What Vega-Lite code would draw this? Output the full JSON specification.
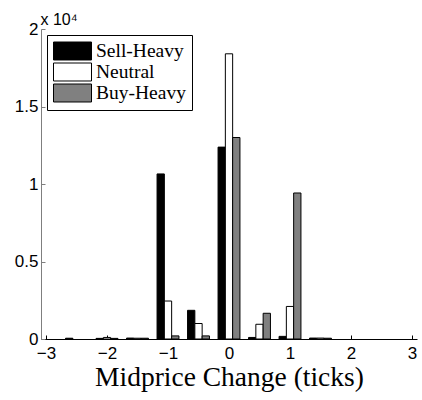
{
  "$schema": "https://vega.github.io/schema/vega-lite/v6.json",
  "width": 376,
  "height": 310,
  "autosize": "none",
  "padding": {"left": 41, "top": 29, "right": 5, "bottom": 61},
  "background": "white",
  "config": {
    "view": {"stroke": null},
    "axis": {
      "grid": false,
      "domainColor": "black",
      "tickColor": "black",
      "labelColor": "black",
      "labelFont": "Liberation Sans",
      "labelFontSize": 17,
      "tickSize": -4,
      "titleColor": "black"
    },
    "legend": {
      "orient": "top-left",
      "offset": 6,
      "padding": 6,
      "strokeColor": "black",
      "strokeWidth": 1,
      "fillColor": "white",
      "labelFont": "Liberation Serif",
      "labelFontSize": 19.5,
      "labelColor": "black",
      "rowPadding": -2,
      "symbolType": "M-1,-0.947H3V0.947H-1Z",
      "symbolSize": 361,
      "symbolStrokeColor": "black",
      "symbolStrokeWidth": 1,
      "labelOffset": 23,
      "title": null
    }
  },
  "data": {
    "values": [
      {"change": -2.5, "series": "Sell-Heavy", "count": 50},
      {"change": -2.5, "series": "Neutral", "count": 0},
      {"change": -2.5, "series": "Buy-Heavy", "count": 0},
      {"change": -2, "series": "Sell-Heavy", "count": 40},
      {"change": -2, "series": "Neutral", "count": 100},
      {"change": -2, "series": "Buy-Heavy", "count": 40},
      {"change": -1.5, "series": "Sell-Heavy", "count": 60},
      {"change": -1.5, "series": "Neutral", "count": 50},
      {"change": -1.5, "series": "Buy-Heavy", "count": 50},
      {"change": -1, "series": "Sell-Heavy", "count": 10650},
      {"change": -1, "series": "Neutral", "count": 2450},
      {"change": -1, "series": "Buy-Heavy", "count": 200},
      {"change": -0.5, "series": "Sell-Heavy", "count": 1850},
      {"change": -0.5, "series": "Neutral", "count": 1000},
      {"change": -0.5, "series": "Buy-Heavy", "count": 200},
      {"change": 0, "series": "Sell-Heavy", "count": 12380},
      {"change": 0, "series": "Neutral", "count": 18400},
      {"change": 0, "series": "Buy-Heavy", "count": 13000},
      {"change": 0.5, "series": "Sell-Heavy", "count": 100},
      {"change": 0.5, "series": "Neutral", "count": 950},
      {"change": 0.5, "series": "Buy-Heavy", "count": 1660},
      {"change": 1, "series": "Sell-Heavy", "count": 170},
      {"change": 1, "series": "Neutral", "count": 2100},
      {"change": 1, "series": "Buy-Heavy", "count": 9420},
      {"change": 1.5, "series": "Sell-Heavy", "count": 60},
      {"change": 1.5, "series": "Neutral", "count": 60},
      {"change": 1.5, "series": "Buy-Heavy", "count": 50},
      {"change": 2, "series": "Sell-Heavy", "count": 0},
      {"change": 2, "series": "Neutral", "count": 0},
      {"change": 2, "series": "Buy-Heavy", "count": 0},
      {"change": 2.5, "series": "Sell-Heavy", "count": 0},
      {"change": 2.5, "series": "Neutral", "count": 0},
      {"change": 2.5, "series": "Buy-Heavy", "count": 0}
    ]
  },
  "encoding": {
    "x": {
      "field": "change",
      "type": "quantitative",
      "scale": {"domain": [-3, 3], "nice": false, "zero": false},
      "axis": {
        "values": [-3, -2, -1, 0, 1, 2, 3],
        "title": "Midprice Change (ticks)",
        "titleFont": "Liberation Serif",
        "titleFontSize": 27.5,
        "titleFontWeight": "normal",
        "titlePadding": 2,
        "labelPadding": 10
      }
    },
    "y": {
      "field": "count",
      "type": "quantitative",
      "scale": {"domain": [0, 20000], "nice": false},
      "axis": {
        "values": [0, 5000, 10000, 15000, 20000],
        "labelExpr": "datum.value / 10000",
        "labelPadding": 7,
        "domainColor": "#7f7f7f",
        "tickColor": "#7f7f7f",
        "title": "x 10⁴",
        "titleAngle": 0,
        "titleFont": "Liberation Sans",
        "titleFontSize": 16,
        "titleFontWeight": "normal",
        "titleAlign": "left",
        "titleBaseline": "alphabetic",
        "titleX": -1,
        "titleY": -5
      }
    },
    "color": {
      "field": "series",
      "type": "nominal",
      "scale": {
        "domain": ["Sell-Heavy", "Neutral", "Buy-Heavy"],
        "range": ["#000000", "#ffffff", "#808080"]
      },
      "legend": {"labelExpr": "datum.label + '\u2002\u2002'"}
    }
  },
  "layer": [
    {
      "transform": [{"filter": "datum.series === 'Sell-Heavy' && datum.count > 0"}],
      "mark": {"type": "bar", "width": 7.3, "xOffset": -7.3, "stroke": "black", "strokeWidth": 1}
    },
    {
      "transform": [{"filter": "datum.series === 'Neutral' && datum.count > 0"}],
      "mark": {"type": "bar", "width": 7.3, "xOffset": 0, "stroke": "black", "strokeWidth": 1}
    },
    {
      "transform": [{"filter": "datum.series === 'Buy-Heavy' && datum.count > 0"}],
      "mark": {"type": "bar", "width": 7.3, "xOffset": 7.3, "stroke": "black", "strokeWidth": 1}
    }
  ]
}
